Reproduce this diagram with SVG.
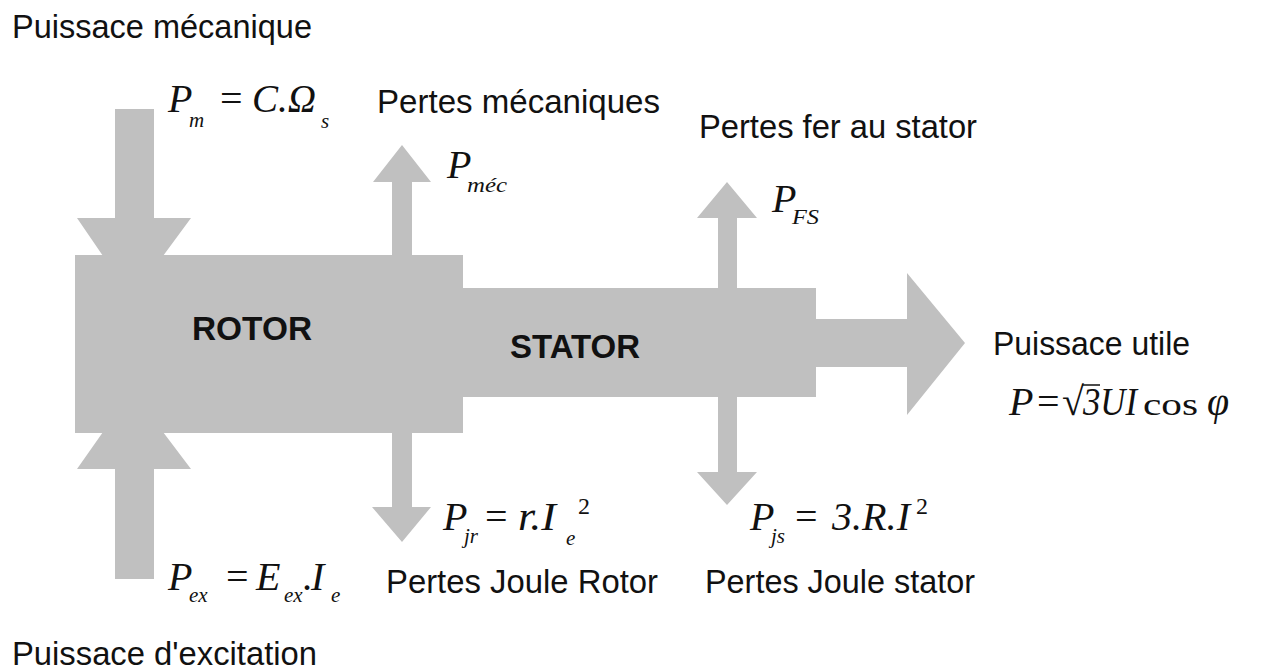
<svg xmlns="http://www.w3.org/2000/svg" width="1263" height="671" viewBox="0 0 1263 671">
<style>
.blk{fill:#c0c0c0;stroke:none}
.lbl{font-family:"Liberation Sans",Arial,sans-serif;font-size:34px;fill:#111}
.node{font-family:"Liberation Sans",Arial,sans-serif;font-size:33px;font-weight:bold;fill:#111}
.f{font-family:"Liberation Serif","Times New Roman",serif;font-size:40px;fill:#111}
.i{font-style:italic}
.s{font-style:italic;font-size:21px}
.su{font-size:24px}
</style>
<rect width="1263" height="671" fill="#fff"/>
<g id="connectors">
<polygon class="blk" points="115,109 154,109 154,218 191,218 163,256 103,256 77,218 115,218"/>
<polygon class="blk" points="115,579 154,579 154,469 191,469 163,432 103,432 77,469 115,469"/>
<polygon class="blk" points="392,256 392,182 373,182 402,145 431,182 412,182 412,256"/>
<polygon class="blk" points="392,432 392,507 372,507 402,542 431,507 412,507 412,432"/>
<polygon class="blk" points="718,289 718,218 697,218 727,182 757,218 737,218 737,289"/>
<polygon class="blk" points="718,396 718,472 697,472 727,505 757,472 737,472 737,396"/>
<polygon class="blk" points="815,319 907,319 907,273 965,343 907,415 907,367 815,367"/>
</g>
<g id="rotor">
<rect class="blk" x="75" y="255" width="388" height="178"/>
<text class="node" x="192" y="340" textLength="120" lengthAdjust="spacingAndGlyphs">ROTOR</text>
</g>
<g id="stator">
<rect class="blk" x="462" y="288" width="354" height="109"/>
<text class="node" x="510" y="358" textLength="130" lengthAdjust="spacingAndGlyphs">STATOR</text>
</g>
<g id="label-meca">
<text class="lbl" x="12" y="38" textLength="300" lengthAdjust="spacingAndGlyphs">Puissace mécanique</text>
<text class="f"><tspan class="i" x="168" y="112">P</tspan><tspan class="s" x="189" y="127">m</tspan><tspan x="220" y="112">=</tspan><tspan class="i" x="252" y="112" textLength="64" lengthAdjust="spacingAndGlyphs">C.Ω</tspan><tspan class="s" x="321" y="128">s</tspan></text>
</g>
<g id="label-pmec">
<text class="lbl" x="377" y="113" textLength="283" lengthAdjust="spacingAndGlyphs">Pertes mécaniques</text>
<text class="f"><tspan class="i" x="447" y="178">P</tspan><tspan class="s" x="467" y="192" textLength="40" lengthAdjust="spacingAndGlyphs">méc</tspan></text>
</g>
<g id="label-pfs">
<text class="lbl" x="699" y="138" textLength="278" lengthAdjust="spacingAndGlyphs">Pertes fer au stator</text>
<text class="f"><tspan class="i" x="772" y="212">P</tspan><tspan class="s" x="792" y="224" textLength="27" lengthAdjust="spacingAndGlyphs">FS</tspan></text>
</g>
<g id="label-utile">
<text class="lbl" x="993" y="355" textLength="197" lengthAdjust="spacingAndGlyphs">Puissace utile</text>
<text class="f"><tspan class="i" x="1009" y="415">P</tspan><tspan x="1037" y="415">=</tspan><tspan x="1062" y="415">√</tspan><tspan class="i" x="1083" y="415" textLength="54" lengthAdjust="spacingAndGlyphs">3UI</tspan><tspan x="1143" y="415" font-size="32" textLength="55" lengthAdjust="spacingAndGlyphs">cos</tspan><tspan class="i" x="1207" y="415">φ</tspan></text>
<line x1="1082" y1="385" x2="1100" y2="385" stroke="#111" stroke-width="1.5"/>
</g>
<g id="label-pjr">
<text class="f"><tspan class="i" x="443" y="530">P</tspan><tspan class="s" x="464" y="543">jr</tspan><tspan x="485" y="530">=</tspan><tspan class="i" x="518" y="530" textLength="38" lengthAdjust="spacingAndGlyphs">r.I</tspan><tspan class="s" x="566" y="545">e</tspan><tspan class="su" x="578" y="514">2</tspan></text>
<text class="lbl" x="386" y="593" textLength="272" lengthAdjust="spacingAndGlyphs">Pertes Joule Rotor</text>
</g>
<g id="label-pjs">
<text class="f"><tspan class="i" x="750" y="530">P</tspan><tspan class="s" x="771" y="543">js</tspan><tspan x="795" y="530">=</tspan><tspan class="i" x="832" y="530" textLength="78" lengthAdjust="spacingAndGlyphs">3.R.I</tspan><tspan class="su" x="916" y="514">2</tspan></text>
<text class="lbl" x="705" y="593" textLength="270" lengthAdjust="spacingAndGlyphs">Pertes Joule stator</text>
</g>
<g id="label-excit">
<text class="f"><tspan class="i" x="168" y="590">P</tspan><tspan class="s" x="189" y="602">ex</tspan><tspan x="226" y="590">=</tspan><tspan class="i" x="256" y="590">E</tspan><tspan class="s" x="284" y="602">ex</tspan><tspan class="i" x="303" y="590">.</tspan><tspan class="i" x="311" y="590">I</tspan><tspan class="s" x="331" y="602">e</tspan></text>
<text class="lbl" x="12" y="665" textLength="305" lengthAdjust="spacingAndGlyphs">Puissace d'excitation</text>
</g>
</svg>
